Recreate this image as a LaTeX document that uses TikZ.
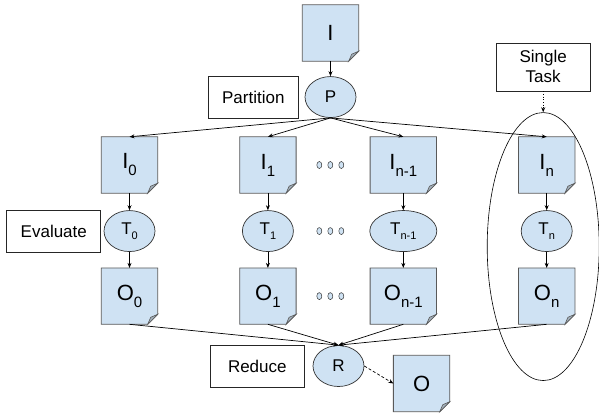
\documentclass[tikz,border=0pt]{standalone}
\usepackage{fontspec}
\setmainfont{Liberation Sans}
\usetikzlibrary{shapes,arrows.meta,positioning,backgrounds}

\definecolor{docblue}{HTML}{CFE2F3}
\definecolor{docline}{HTML}{595959}
\definecolor{foldgray}{HTML}{A3B0BB}

% big letter with a dropped index (documents), small one (tasks)
\newcommand{\docsub}[2]{#1\raisebox{-7pt}{\fontsize{15}{15}\selectfont #2}}
\newcommand{\tasksub}[2]{#1\raisebox{-5pt}{\fontsize{11}{11}\selectfont #2}}

\begin{document}
\begin{tikzpicture}[
    x=1pt, y=-1pt,
    doc/.style={rectangle, minimum width=56pt, minimum height=56pt, inner sep=0pt, font=\fontsize{22}{22}\selectfont},
    task/.style={ellipse, draw=black!80, fill=docblue, line width=0.7pt, minimum width=51pt, minimum height=41pt, inner sep=0pt, font=\fontsize{17}{17}\selectfont},
    note/.style={rectangle, draw=black!85, line width=0.7pt, minimum width=94pt, minimum height=42pt, align=center, font=\fontsize{17}{20}\selectfont},
    ooo/.style={ellipse, draw=black!80, fill=docblue, line width=0.5pt, minimum width=5pt, minimum height=7pt, inner sep=0pt},
    arrow/.style={-{Stealth[length=5pt,width=4pt]}, line width=0.7pt}
]
\useasboundingbox (0,0) rectangle (599,418);

\node[doc] (in) at (330.5,33) {I};
\node[task, below=15pt of in] (p) {P};
\node[note, left=6pt of p, minimum width=90pt] (part) {Partition};

% input split
\node[doc] (i0) at (129.5,165) {\docsub{I}{0}};
\node[doc, right=82pt of i0] (i1) {\docsub{I}{1}};
\node[doc, right=74pt of i1, minimum width=66pt] (in1) {\docsub{I}{n-1}};
\node[doc, right=82pt of in1] (iN) {\docsub{I}{n}};

% tasks
\node[task, below=17pt of i0] (t0) {\tasksub{T}{0}};
\node[task, below=17pt of i1] (t1) {\tasksub{T}{1}};
\node[task, below=17pt of in1, minimum width=67pt] (tn1) {\tasksub{T}{n-1}};
\node[task, below=17pt of iN] (tN) {\tasksub{T}{n}};
\node[note, left=2.5pt of t0] (eval) {Evaluate};

% outputs
\node[doc, below=16pt of t0] (o0) {\docsub{O}{0}};
\node[doc, below=16pt of t1] (o1) {\docsub{O}{1}};
\node[doc, below=16pt of tn1, minimum width=66pt] (on1) {\docsub{O}{n-1}};
\node[doc, below=16pt of tN] (oN) {\docsub{O}{n}};

\foreach \r in {i,t,o}
  \foreach \k/\dx in {a/-84,b/-73,c/-62}
    \node[ooo, xshift=\dx pt] (dot\r\k) at (\r n1) {};

\node[task] (r) at (338.5,366) {R};
\node[note, left=8pt of r] (red) {Reduce};
\node[doc, right=29pt of r, yshift=-17.5pt] (out) {O};

\node[ellipse, draw, line width=0.6pt, minimum width=112pt, minimum height=268pt, inner sep=0pt, xshift=-3.5pt, yshift=-15.5pt] (single) at (tN) {};
\node[note, above=21pt of single, minimum height=48pt] (stask) {Single\\Task};

% page outline with folded corner
\begin{scope}[on background layer]
\foreach \d in {in,i0,i1,in1,iN,o0,o1,on1,oN,out} {
  \filldraw[draw=docline, fill=docblue, line width=0.8pt] (\d.north west) -- (\d.north east) -- ([yshift=10pt]\d.south east) -- ([xshift=-10pt]\d.south east) -- (\d.south west) -- cycle;
  \filldraw[draw=docline, fill=foldgray, line width=0.6pt] ([xshift=-10pt]\d.south east) .. controls ([xshift=-8.5pt,yshift=4pt]\d.south east) .. ([xshift=-7pt,yshift=7pt]\d.south east) -- ([yshift=10pt]\d.south east) -- cycle;
}
\end{scope}

\draw[arrow] (in) -- (p);
\foreach \d in {i0,i1,in1,iN}
  \draw[arrow] (p.south) -- (\d.north);
\foreach \k in {0,1,n1,N} {
  \draw[arrow] (i\k) -- (t\k);
  \draw[arrow] (t\k) -- (o\k);
  \draw[arrow] (o\k.south) -- (r.north);
}
\draw[arrow, dash pattern=on 3pt off 2pt] (r.east) -- (out.west);
\draw[arrow, dotted] (stask) -- (single);
\end{tikzpicture}
\end{document}
